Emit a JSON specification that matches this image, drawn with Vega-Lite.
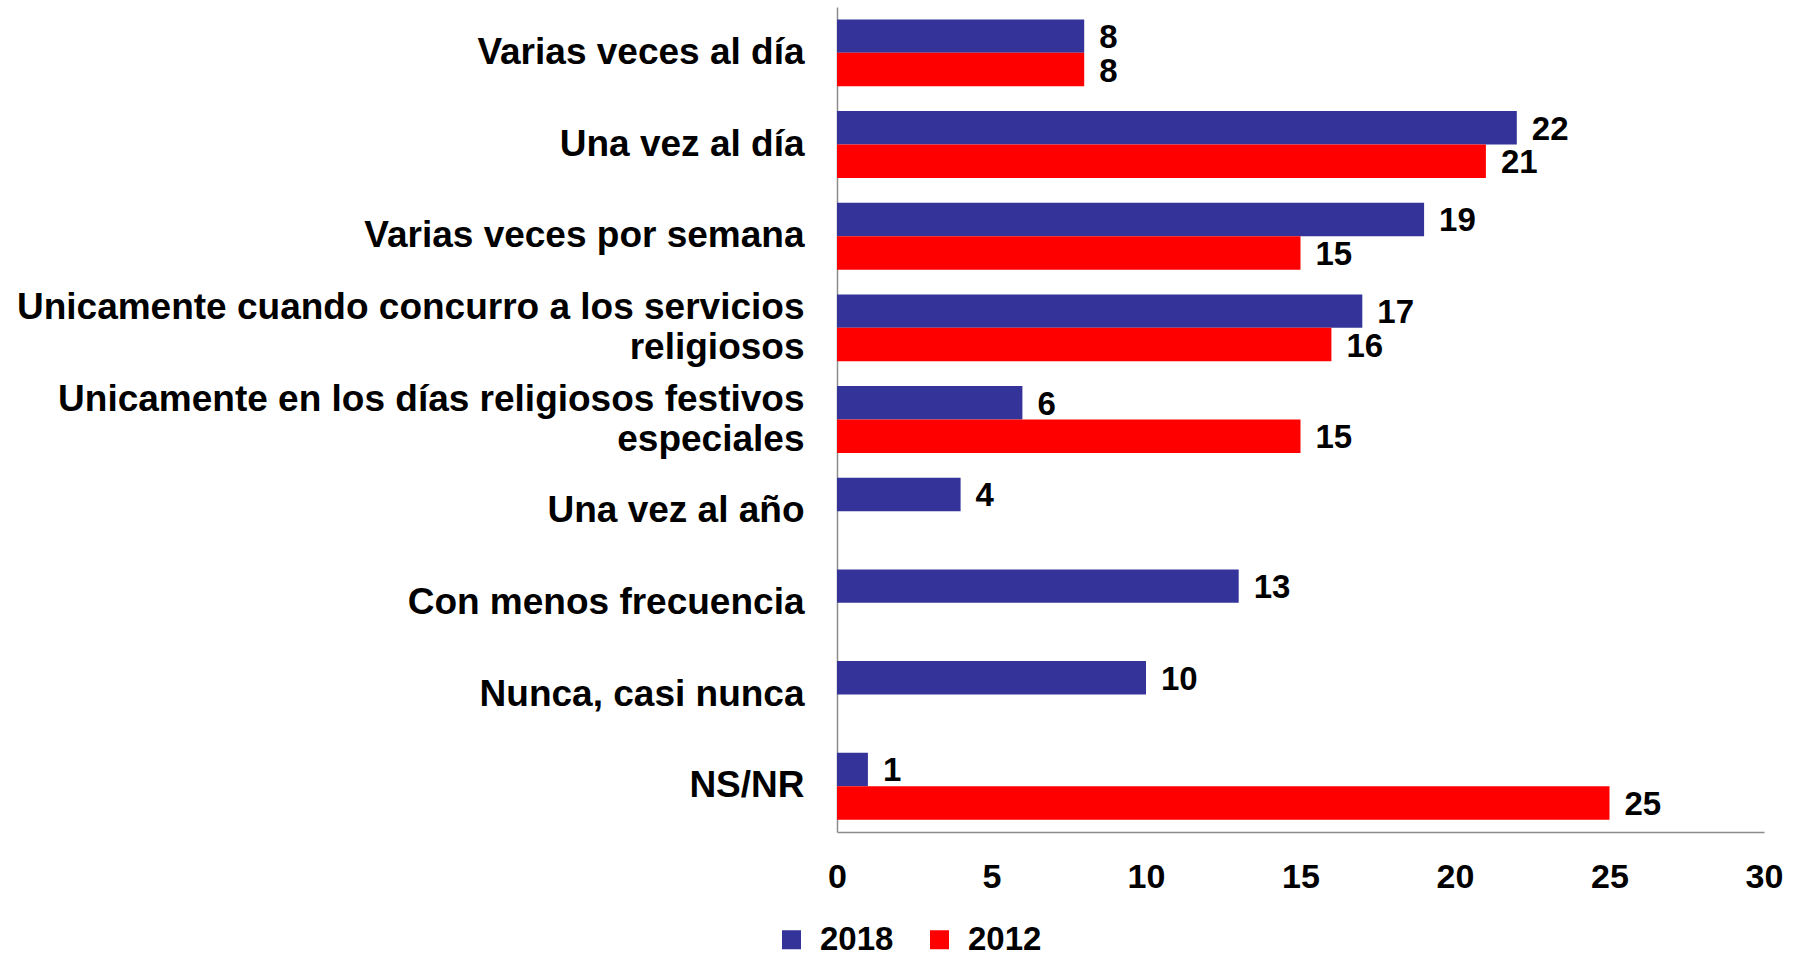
{
  "$schema": "https://vega.github.io/schema/vega-lite/v6.json",
  "autosize": {"type": "none"},
  "padding": {"left": 837, "top": 7, "right": 34, "bottom": 124},
  "width": 927,
  "height": 825,
  "background": "white",
  "config": {
    "view": {"stroke": null},
    "font": "Liberation Sans"
  },
  "data": {
    "values": [
      {"categoria": "Varias veces al día", "anio": "2018", "valor": 8},
      {"categoria": "Varias veces al día", "anio": "2012", "valor": 8},
      {"categoria": "Una vez al día", "anio": "2018", "valor": 22},
      {"categoria": "Una vez al día", "anio": "2012", "valor": 21},
      {"categoria": "Varias veces por semana", "anio": "2018", "valor": 19},
      {"categoria": "Varias veces por semana", "anio": "2012", "valor": 15},
      {"categoria": "Unicamente cuando concurro a los servicios religiosos", "anio": "2018", "valor": 17},
      {"categoria": "Unicamente cuando concurro a los servicios religiosos", "anio": "2012", "valor": 16},
      {"categoria": "Unicamente en los días religiosos festivos especiales", "anio": "2018", "valor": 6},
      {"categoria": "Unicamente en los días religiosos festivos especiales", "anio": "2012", "valor": 15},
      {"categoria": "Una vez al año", "anio": "2018", "valor": 4},
      {"categoria": "Con menos frecuencia", "anio": "2018", "valor": 13},
      {"categoria": "Nunca, casi nunca", "anio": "2018", "valor": 10},
      {"categoria": "NS/NR", "anio": "2018", "valor": 1},
      {"categoria": "NS/NR", "anio": "2012", "valor": 25}
    ]
  },
  "encoding": {
    "y": {
      "field": "categoria",
      "type": "nominal",
      "sort": null,
      "scale": {"paddingInner": 0.27, "paddingOuter": 0.135},
      "axis": {
        "title": null,
        "ticks": false,
        "tickSize": 0,
        "domainColor": "#8c8c8c",
        "domainWidth": 1.5,
        "labelFont": "Liberation Sans",
        "labelFontWeight": "bold",
        "labelFontSize": 37,
        "labelColor": "black",
        "labelPadding": 33,
        "labelLimit": 900,
        "labelLineHeight": 40,
        "labelAlign": "right",
        "labelBaseline": "middle",
        "labelOffset": {"condition": {"test": "indexof(datum.value, 'Unicamente') == 0", "value": -20}, "value": 0},
        "labelExpr": "datum.value == 'Unicamente cuando concurro a los servicios religiosos' ? ['Unicamente cuando concurro a los servicios', 'religiosos\u00a0\u00a0\u00a0\u00a0\u00a0\u00a0\u00a0\u00a0\u00a0\u00a0\u00a0\u00a0\u00a0\u00a0\u00a0\u00a0\u00a0\u00a0\u00a0\u00a0\u00a0\u00a0\u00a0\u00a0\u00a0\u00a0\u00a0\u00a0\u00a0\u00a0'] : datum.value == 'Unicamente en los días religiosos festivos especiales' ? ['Unicamente en los días religiosos festivos', 'especiales\u00a0\u00a0\u00a0\u00a0\u00a0\u00a0\u00a0\u00a0\u00a0\u00a0\u00a0\u00a0\u00a0\u00a0\u00a0\u00a0\u00a0\u00a0\u00a0\u00a0\u00a0\u00a0\u00a0\u00a0\u00a0\u00a0\u00a0'] : datum.value"
      }
    },
    "yOffset": {"field": "anio", "type": "nominal", "sort": ["2018", "2012"]},
    "x": {
      "field": "valor",
      "type": "quantitative",
      "scale": {"domain": [0, 30], "nice": false},
      "axis": {
        "title": null,
        "values": [0, 5, 10, 15, 20, 25, 30],
        "grid": false,
        "ticks": false,
        "tickSize": 0,
        "domainColor": "#8c8c8c",
        "domainWidth": 1.5,
        "labelFont": "Liberation Sans",
        "labelFontWeight": "bold",
        "labelFontSize": 34,
        "labelColor": "black",
        "labelPadding": 28,
        "labelFlush": false
      }
    }
  },
  "layer": [
    {
      "mark": {"type": "bar"},
      "encoding": {
        "color": {
          "field": "anio",
          "type": "nominal",
          "scale": {"domain": ["2018", "2012"], "range": ["#333399", "#ff0000"]},
          "legend": {
            "title": null,
            "orient": "none",
            "direction": "horizontal",
            "legendX": -62,
            "legendY": 916,
            "symbolType": "square",
            "symbolSize": 361,
            "symbolStrokeWidth": 0,
            "labelFont": "Liberation Sans",
            "labelFontWeight": "bold",
            "labelFontSize": 33,
            "labelColor": "black",
            "labelOffset": 12,
            "columnPadding": 29
          }
        }
      }
    },
    {
      "mark": {
        "type": "text",
        "align": "left",
        "baseline": "middle",
        "dx": 15,
        "dy": 2,
        "font": "Liberation Sans",
        "fontWeight": "bold",
        "fontSize": 33,
        "color": "black"
      },
      "encoding": {
        "text": {"field": "valor", "type": "quantitative"}
      }
    }
  ]
}
